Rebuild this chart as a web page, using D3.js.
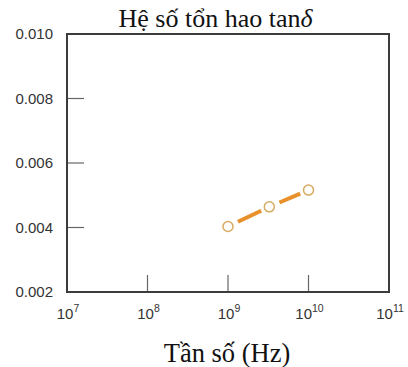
<!DOCTYPE html>
<html><head><meta charset="utf-8">
<script src="https://cdn.jsdelivr.net/npm/d3@7"></script>
<style>html,body{margin:0;padding:0;background:#fff;}svg{display:block;}</style>
</head><body>
<svg id="c" width="408" height="367"></svg>
<script>
const freq = [1e9, 3.26e9, 1e10];
const tanDelta = [0.00403, 0.00464, 0.00516];
const yTicks = [0.002, 0.004, 0.006, 0.008, 0.010];
const yTickLabels = ["0.002", "0.004", "0.006", "0.008", "0.010"];
const xTicks = [1e7, 1e8, 1e9, 1e10, 1e11];
const xExponents = ["7", "8", "9", "10", "11"];
const titleText = "Hệ số tổn hao tan";
const xTitle = "Tần số (Hz)";

const svg = d3.select("#c");
const L = 67, R = 389, T = 34, B = 292;
const x = d3.scaleLog().domain([1e7, 1e11]).range([L, R]);
const y = d3.scaleLinear().domain([0.002, 0.010]).range([B, T]);

// inner ticks
svg.selectAll("line.yt").data(yTicks.slice(1, -1)).enter().append("line")
  .attr("x1", L).attr("x2", L + 17).attr("y1", d => y(d)).attr("y2", d => y(d))
  .attr("stroke", "#666").attr("stroke-width", 1.2);
svg.selectAll("line.xt").data(xTicks.slice(1, -1)).enter().append("line")
  .attr("x1", d => x(d)).attr("x2", d => x(d)).attr("y1", B).attr("y2", B - 17)
  .attr("stroke", "#666").attr("stroke-width", 1.2);

// frame
svg.append("rect").attr("x", L).attr("y", T).attr("width", R - L).attr("height", B - T)
  .attr("fill", "none").attr("stroke", "#3c3c3c").attr("stroke-width", 2);

// y labels
svg.selectAll("text.yl").data(yTicks).enter().append("text")
  .attr("x", L - 14).attr("y", d => y(d)).attr("dy", "0.36em")
  .attr("text-anchor", "end").attr("font-family", "Liberation Sans, Arial, sans-serif")
  .attr("font-size", 15).attr("fill", "#333")
  .text((d, i) => yTickLabels[i]);

// x labels
const xl = svg.selectAll("text.xl").data(xTicks).enter().append("text")
  .attr("x", d => x(d) + 1).attr("y", 319)
  .attr("text-anchor", "middle").attr("font-family", "Liberation Sans, Arial, sans-serif")
  .attr("font-size", 15).attr("fill", "#333");
xl.append("tspan").text("10");
xl.append("tspan").attr("dy", -7).attr("font-size", 10.5).text((d, i) => xExponents[i]);

// data line segments (dashed look between markers)
const pts = freq.map((f, i) => [x(f), y(tanDelta[i])]);
const segs = d3.pairs(pts).map(([a, b]) => {
  const dx = b[0] - a[0], dy = b[1] - a[1], len = Math.hypot(dx, dy);
  const s = 11 / len, e = 1 - 9 / len;
  return [a[0] + dx * s, a[1] + dy * s, a[0] + dx * e, a[1] + dy * e];
});
svg.selectAll("line.seg").data(segs).enter().append("line")
  .attr("x1", d => d[0]).attr("y1", d => d[1]).attr("x2", d => d[2]).attr("y2", d => d[3])
  .attr("stroke", "#e8902b").attr("stroke-width", 4);

svg.selectAll("circle.pt").data(freq).enter().append("circle")
  .attr("cx", d => x(d)).attr("cy", (d, i) => y(tanDelta[i])).attr("r", 5)
  .attr("fill", "#fff").attr("stroke", "#d8ab62").attr("stroke-width", 1.5);

// titles
const tt = svg.append("text").attr("x", 215.5).attr("y", 27).attr("text-anchor", "middle")
  .attr("font-family", "Liberation Serif, Times New Roman, serif").attr("font-size", 26).attr("fill", "#111");
tt.append("tspan").text(titleText);
tt.append("tspan").attr("font-style", "italic").text("δ");

svg.append("text").attr("x", 227).attr("y", 362).attr("text-anchor", "middle")
  .attr("font-family", "Liberation Serif, Times New Roman, serif").attr("font-size", 26.5).attr("fill", "#111")
  .text(xTitle);
</script>
</body></html>
